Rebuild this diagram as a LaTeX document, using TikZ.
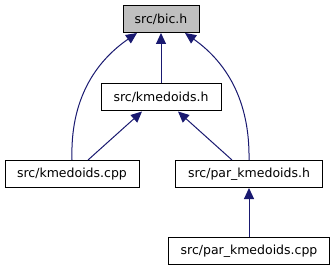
\documentclass[tikz,border=0pt]{standalone}
\usepackage{fontspec}
\setmainfont{DejaVu Sans}
\usetikzlibrary{arrows.meta}
\definecolor{edgeblue}{HTML}{191970}
\definecolor{curfill}{HTML}{BFBFBF}
\begin{document}
\begin{tikzpicture}[x=1pt,y=-1pt,
  filebox/.style={draw=black, line width=1pt, fill=white, minimum height=27pt,
    inner sep=0pt, font=\fontsize{12.5}{14}\selectfont},
  current/.style={filebox, fill=curfill},
  dep/.style={draw=edgeblue, line width=1pt,
    -{Triangle[length=11pt,width=10pt]}}]
\useasboundingbox (0,0) rectangle (336,272);
% include graph nodes
\node[current, minimum width=76pt]  (bic)   at (161,19)   {src/bic.h};
\node[filebox, minimum width=120pt] (kmh)   at (161,97.5) {src/kmedoids.h};
\node[filebox, minimum width=134pt] (kcpp)  at (72,174)   {src/kmedoids.cpp};
\node[filebox, minimum width=147pt] (pkh)   at (249,174)  {src/par\_kmedoids.h};
\node[filebox, minimum width=161pt] (pkcpp) at (249,251)  {src/par\_kmedoids.cpp};
% include edges, arrow pointing to the included file
\draw[dep] (kmh.north) -- (bic.south);
\draw[dep] (kcpp.north) .. controls (70,100) and (95,62) .. ([xshift=-24pt]bic.south);
\draw[dep] (pkh.north) .. controls (250,100) and (226,62) .. ([xshift=24pt]bic.south);
\draw[dep] ([xshift=16pt]kcpp.north) -- ([xshift=-19pt]kmh.south);
\draw[dep] ([xshift=-17pt]pkh.north) -- ([xshift=17pt]kmh.south);
\draw[dep] (pkcpp.north) -- (pkh.south);
\end{tikzpicture}
\end{document}
